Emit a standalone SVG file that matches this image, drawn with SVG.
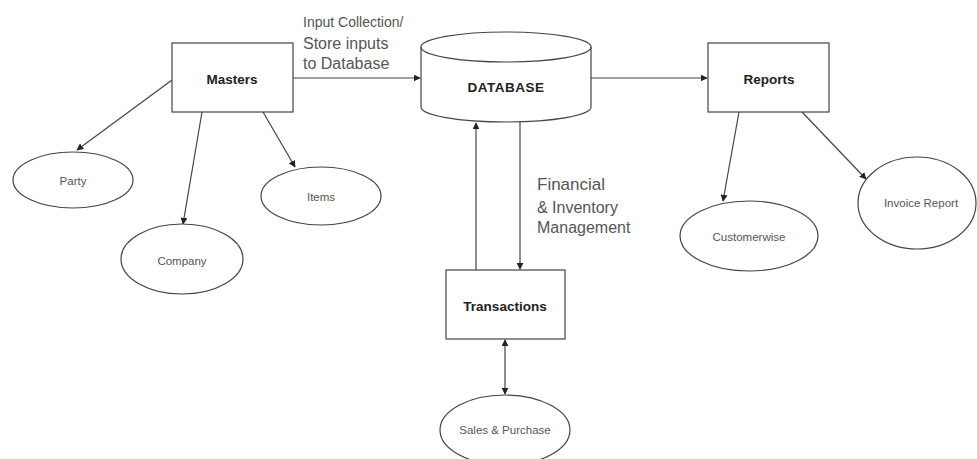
<svg xmlns="http://www.w3.org/2000/svg" width="977" height="459" viewBox="0 0 977 459">
<defs>
<marker id="ah" viewBox="0 0 10 10" refX="9" refY="5" markerWidth="7" markerHeight="7" markerUnits="userSpaceOnUse" orient="auto-start-reverse">
<path d="M0,0 L10,5 L0,10 z" fill="#222"/>
</marker>
<style>
.shape{fill:#fff;stroke:#444;stroke-width:1.2}
.edge{fill:none;stroke:#444;stroke-width:1.2}
.bold{font-family:"Liberation Sans",Arial,sans-serif;font-weight:bold;font-size:13.5px;fill:#222;text-anchor:middle;dominant-baseline:central}
.small{font-family:"Liberation Sans",Arial,sans-serif;font-size:11.5px;fill:#555;text-anchor:middle;dominant-baseline:central}
.lbl{font-family:"Liberation Sans",Arial,sans-serif;font-size:16px;fill:#555}
</style>
</defs>
<rect width="977" height="459" fill="#fff"/>
<g id="connectors">
<line class="edge" x1="293" y1="78" x2="420" y2="78" marker-end="url(#ah)"/>
<line class="edge" x1="591" y1="78" x2="707" y2="78" marker-end="url(#ah)"/>
<line class="edge" x1="172" y1="80" x2="77" y2="150" marker-end="url(#ah)"/>
<line class="edge" x1="202" y1="112" x2="183" y2="224" marker-end="url(#ah)"/>
<line class="edge" x1="263" y1="112" x2="295" y2="167" marker-end="url(#ah)"/>
<line class="edge" x1="739" y1="112" x2="723" y2="201" marker-end="url(#ah)"/>
<line class="edge" x1="802" y1="112" x2="866" y2="179" marker-end="url(#ah)"/>
<line class="edge" x1="476" y1="270" x2="476" y2="123" marker-end="url(#ah)"/>
<line class="edge" x1="520" y1="122" x2="520" y2="269" marker-end="url(#ah)"/>
<line class="edge" x1="505" y1="340" x2="505" y2="394" marker-start="url(#ah)" marker-end="url(#ah)"/>
<text class="lbl" x="303" y="27" style="font-size:14px">Input Collection/</text>
<text class="lbl" x="303" y="49">Store inputs</text>
<text class="lbl" x="303" y="69">to Database</text>
<text class="lbl" x="537" y="190" style="font-size:17px">Financial</text>
<text class="lbl" x="537" y="213">&amp; Inventory</text>
<text class="lbl" x="537" y="233">Management</text>
</g>
<g id="masters">
<rect class="shape" x="172" y="43" width="121" height="69"/>
<text class="bold" x="232" y="79">Masters</text>
</g>
<g id="database">
<path class="shape" d="M421,47 L421,107 A85,15 0 0 0 591,107 L591,47 A85,15 0 0 0 421,47 Z"/>
<path class="edge" d="M421,47 A85,15 0 0 0 591,47"/>
<text class="bold" x="506" y="87" style="letter-spacing:0.5px">DATABASE</text>
</g>
<g id="reports">
<rect class="shape" x="708" y="43" width="121" height="69"/>
<text class="bold" x="769" y="79">Reports</text>
</g>
<g id="transactions">
<rect class="shape" x="446" y="270" width="119" height="69"/>
<text class="bold" x="505" y="306">Transactions</text>
</g>
<g id="party">
<ellipse class="shape" cx="73" cy="180" rx="60" ry="28"/>
<text class="small" x="73" y="181">Party</text>
</g>
<g id="company">
<ellipse class="shape" cx="182" cy="259" rx="61" ry="35"/>
<text class="small" x="182" y="261">Company</text>
</g>
<g id="items">
<ellipse class="shape" cx="321" cy="196" rx="60" ry="29"/>
<text class="small" x="321" y="197">Items</text>
</g>
<g id="customerwise">
<ellipse class="shape" cx="749" cy="236" rx="69" ry="35"/>
<text class="small" x="749" y="237">Customerwise</text>
</g>
<g id="invoice-report">
<ellipse class="shape" cx="917" cy="203" rx="59" ry="46"/>
<text class="small" x="921" y="203">Invoice Report</text>
</g>
<g id="sales-purchase">
<ellipse class="shape" cx="505" cy="430" rx="65" ry="35"/>
<text class="small" x="505" y="430">Sales &amp; Purchase</text>
</g>
</svg>
